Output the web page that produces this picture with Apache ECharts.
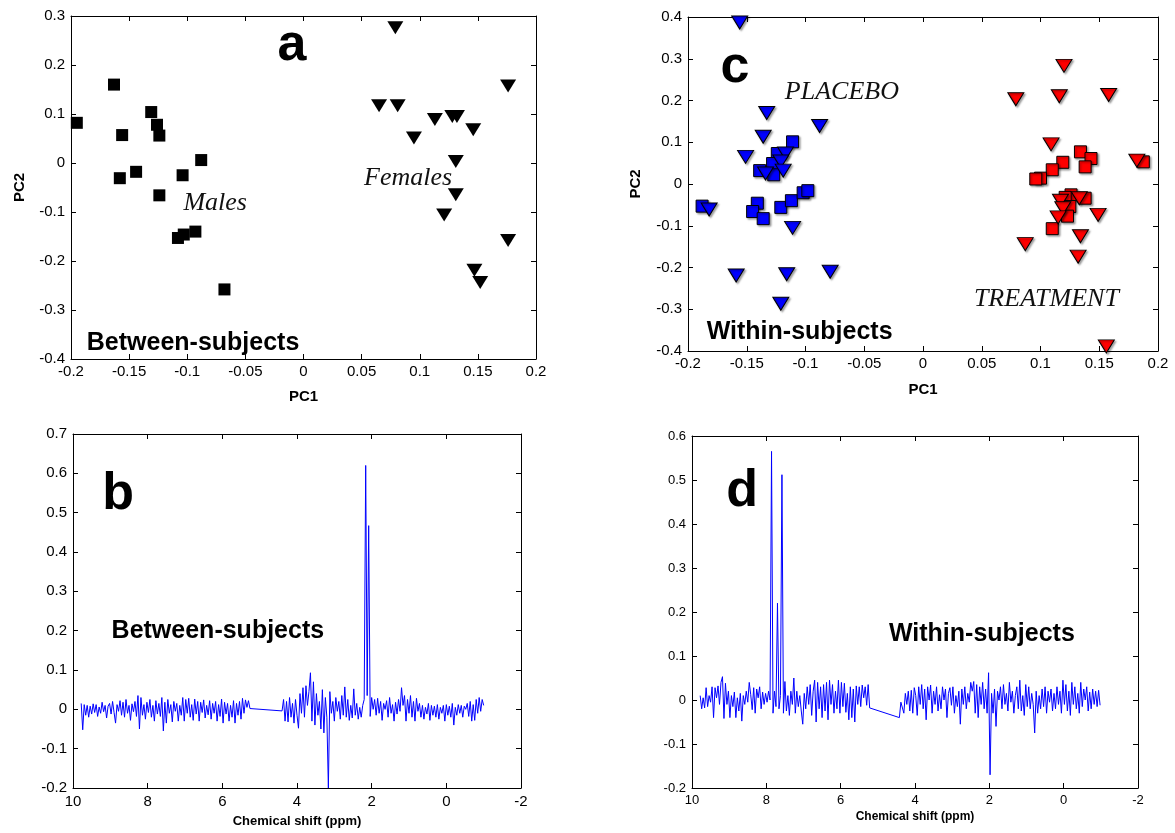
<!DOCTYPE html>
<html>
<head>
<meta charset="utf-8">
<script src="https://cdn.jsdelivr.net/npm/echarts@6/dist/echarts.min.js"></script>
<style>
  html, body { margin: 0; padding: 0; background: #fff; }
  #main { width: 1175px; height: 833px; }
</style>
</head>
<body>
<div id="main"></div>
<script>
// ---- PCA scores: between-subjects (panel a) ----
const males = [[-0.163,0.160],[-0.195,0.082],[-0.131,0.104],[-0.126,0.078],[-0.124,0.056],[-0.156,0.057],
  [-0.088,0.006],[-0.144,-0.018],[-0.158,-0.031],[-0.104,-0.025],[-0.124,-0.066],[-0.108,-0.153],
  [-0.103,-0.146],[-0.093,-0.140],[-0.068,-0.258]];
const females = [[0.079,0.276],[0.176,0.157],[0.065,0.117],[0.081,0.117],[0.113,0.089],[0.128,0.095],
  [0.132,0.095],[0.146,0.068],[0.095,0.051],[0.131,0.003],[0.131,-0.065],[0.121,-0.106],
  [0.176,-0.158],[0.147,-0.219],[0.152,-0.244]];

// ---- PCA scores: within-subjects (panel c) ----
const placeboSquares = [[-0.188,-0.053],[-0.111,0.101],[-0.124,0.073],[-0.128,0.049],[-0.139,0.032],
  [-0.127,0.022],[-0.141,-0.046],[-0.145,-0.066],[-0.136,-0.083],[-0.121,-0.056],[-0.112,-0.040],
  [-0.102,-0.021],[-0.098,-0.016]];
const placeboTriangles = [[-0.156,0.387],[-0.133,0.170],[-0.136,0.113],[-0.088,0.139],[-0.151,0.065],
  [-0.117,0.073],[-0.121,0.054],[-0.134,0.025],[-0.119,0.032],[-0.182,-0.061],[-0.111,-0.105],
  [-0.159,-0.219],[-0.116,-0.216],[-0.079,-0.210],[-0.121,-0.287]];
const treatmentSquares = [[0.134,0.077],[0.143,0.061],[0.138,0.041],[0.119,0.052],[0.110,0.034],
  [0.100,0.014],[0.096,0.012],[0.126,-0.026],[0.121,-0.032],[0.138,-0.034],[0.125,-0.054],
  [0.123,-0.077],[0.110,-0.107],[0.1875,0.053]];
const treatmentTriangles = [[0.120,0.283],[0.079,0.203],[0.116,0.210],[0.158,0.213],[0.109,0.095],
  [0.182,0.056],[0.117,-0.040],[0.133,-0.034],[0.119,-0.058],[0.115,-0.080],[0.149,-0.074],
  [0.134,-0.125],[0.087,-0.144],[0.132,-0.174],[0.156,-0.389]];

// ---- PC loadings spectra, sampled every 0.04 ppm on either side of the excluded water region ----
const ppmStep = 0.04;
const bHighStart = 9.78;
const bHigh = [0.015,-0.052,0.012,-0.015,0.010,-0.020,0.008,-0.012,0.014,-0.008,0.012,-0.018,0.006,-0.010,
  0.018,-0.006,0.010,-0.022,0.008,0.015,-0.012,0.020,-0.008,-0.035,0.012,-0.005,0.022,-0.015,0.018,-0.020,
  0.025,-0.010,0.010,-0.028,0.014,-0.006,0.020,-0.018,0.035,-0.050,0.030,-0.015,0.012,-0.025,0.018,-0.008,
  0.025,-0.020,0.010,-0.030,0.022,-0.012,0.015,-0.018,0.030,-0.055,0.018,-0.035,0.025,-0.010,0.012,-0.032,
  0.020,-0.005,0.015,-0.030,0.010,-0.015,0.030,-0.030,0.025,-0.010,0.028,-0.020,0.012,-0.028,0.026,-0.012,
  0.020,-0.030,0.018,-0.008,0.024,-0.022,0.010,-0.014,0.022,-0.025,0.015,-0.010,0.020,-0.030,0.012,-0.018,
  0.026,-0.035,0.018,-0.012,0.015,-0.030,0.010,-0.020,0.022,-0.035,0.015,-0.015,0.020,-0.025,0.028,-0.010,
  0.024,0.005,0.022,0.002];
const bLowStart = 4.40;
const bLow = [-0.004,0.025,-0.030,0.020,-0.032,0.030,-0.020,0.015,-0.035,0.025,-0.015,-0.048,0.040,-0.010,
  0.055,-0.020,0.060,0.010,0.045,0.093,-0.030,0.070,-0.040,0.040,-0.015,0.020,-0.050,0.050,-0.060,0.030,
  -0.020,-0.200,0.045,-0.010,0.020,-0.030,0.030,-0.005,0.020,-0.025,0.035,-0.015,0.057,-0.020,0.025,-0.028,
  0.010,-0.022,0.052,-0.015,0.015,-0.025,0.005,-0.020,0.010,0.025,0.620,0.035,0.467,-0.018,0.030,0.000,
  0.025,-0.015,0.028,-0.010,0.020,-0.028,0.015,0.000,0.022,-0.020,0.030,-0.010,0.012,-0.030,0.018,-0.012,
  0.025,-0.005,0.055,0.010,0.035,-0.030,0.025,-0.010,0.035,-0.020,0.020,-0.030,0.028,-0.005,0.015,-0.020,
  0.010,-0.025,0.005,-0.012,0.015,-0.028,0.010,-0.015,0.008,-0.020,0.012,-0.025,0.005,-0.010,0.010,-0.030,
  0.012,-0.015,0.008,-0.020,0.015,-0.040,0.005,-0.015,0.012,-0.010,0.010,-0.020,0.008,0.000,0.015,-0.018,
  0.020,-0.030,0.012,-0.028,0.025,-0.010,0.030,-0.005,0.025,0.010];
const dHighStart = 9.78;
const dHigh = [0.010,-0.020,0.005,-0.018,0.028,-0.015,0.010,-0.005,0.030,-0.040,0.028,0.005,0.032,-0.010,
  0.040,0.053,-0.042,0.038,-0.010,0.020,-0.040,0.010,-0.015,0.018,-0.040,0.005,-0.025,0.015,-0.048,0.010,
  -0.010,0.020,-0.005,0.040,0.012,-0.022,0.028,-0.030,0.025,0.005,0.030,-0.020,0.018,-0.010,0.015,-0.005,
  0.020,0.000,0.565,-0.030,0.020,-0.015,0.220,-0.020,0.010,0.512,-0.030,0.042,-0.025,0.010,-0.035,0.020,
  -0.010,0.050,-0.030,0.020,-0.015,0.010,-0.025,-0.055,0.015,-0.020,0.030,-0.010,0.035,-0.035,0.020,0.045,
  -0.050,0.040,-0.020,0.030,-0.040,0.035,-0.025,0.040,-0.045,0.045,-0.010,0.035,-0.030,0.020,-0.020,0.045,
  -0.030,0.040,-0.015,0.038,-0.028,0.015,-0.045,0.030,-0.040,0.025,-0.050,0.032,-0.010,0.030,-0.015,0.034,
  0.005,0.030,-0.012,0.035,-0.018];
const dLowStart = 4.42;
const dLow = [-0.040,-0.005,-0.002,-0.030,0.015,-0.010,0.020,-0.025,0.022,-0.030,0.028,0.010,-0.035,0.030,
  -0.010,0.035,-0.020,0.025,-0.045,0.030,0.000,0.034,-0.030,0.020,-0.010,0.030,-0.025,0.012,-0.020,0.030,
  0.000,0.025,-0.040,0.015,0.028,-0.012,0.030,-0.030,0.010,-0.015,0.020,-0.055,0.025,-0.010,0.030,-0.020,
  0.015,-0.005,0.040,0.020,0.042,-0.030,0.035,-0.040,0.030,-0.010,0.040,-0.020,0.025,-0.030,0.062,-0.170,
  0.015,-0.030,0.025,-0.060,0.020,0.000,0.030,-0.020,0.035,-0.010,0.015,-0.025,0.040,-0.005,0.020,-0.030,
  0.010,0.030,-0.020,0.045,-0.025,0.010,-0.035,0.035,-0.015,0.030,-0.020,0.015,-0.010,-0.075,0.020,-0.030,
  0.010,-0.020,0.025,-0.015,0.030,-0.030,0.020,-0.005,0.025,-0.025,0.015,-0.020,0.030,-0.010,0.020,-0.030,
  0.045,-0.010,0.035,-0.025,0.020,-0.035,0.040,-0.010,0.030,-0.020,0.015,-0.030,0.040,-0.015,0.025,0.000,
  0.030,-0.025,0.018,-0.020,0.025,-0.010,0.020,-0.015,0.022,-0.012];

// ---- axis ranges and ticks ----
const pcXRange = [-0.2, 0.2, 0.05];
const pcAYRange = [-0.4, 0.3, 0.1];
const pcCYRange = [-0.4, 0.4, 0.1];
const ppmRange = [-2, 10, 2];
const loadBYRange = [-0.2, 0.7, 0.1];
const loadDYRange = [-0.2, 0.6, 0.1];

// ---- helpers ----
const SANS = 'Liberation Sans, Arial, Helvetica, sans-serif';
const SERIF = 'Liberation Serif, Times New Roman, serif';
const BLACK = '#000';

function spectrum(start, vals) {
  return vals.map((v, i) => [+(start - i * ppmStep).toFixed(2), v]);
}

const xAxes = [], yAxes = [];
function addAxes(gi, xr, yr, cfg) {
  const line = { show: true, onZero: false, lineStyle: { color: BLACK, width: 1 } };
  const tick = { show: true, inside: true, length: 5, lineStyle: { color: BLACK, width: 1 } };
  const common = { gridIndex: gi, type: 'value', splitLine: { show: false }, axisLine: line, axisTick: tick };
  xAxes.push(Object.assign({}, common, {
    position: 'bottom', min: xr[0], max: xr[1], interval: xr[2], inverse: !!cfg.inverse,
    axisLabel: { color: BLACK, fontFamily: SANS, fontSize: cfg.tickFont, margin: cfg.xMargin },
    name: cfg.xName || '', nameLocation: 'middle', nameGap: cfg.xNameGap || 0,
    nameTextStyle: { color: BLACK, fontFamily: SANS, fontWeight: 'bold', fontSize: cfg.xNameFont }
  }));
  xAxes.push(Object.assign({}, common, {
    position: 'top', min: xr[0], max: xr[1], interval: xr[2], inverse: !!cfg.inverse,
    axisLabel: { show: false }
  }));
  yAxes.push(Object.assign({}, common, {
    position: 'left', min: yr[0], max: yr[1], interval: yr[2],
    axisLabel: { color: BLACK, fontFamily: SANS, fontSize: cfg.tickFont, margin: cfg.yMargin },
    name: cfg.yName || '', nameLocation: 'middle', nameGap: cfg.yNameGap || 0,
    nameTextStyle: { color: BLACK, fontFamily: SANS, fontWeight: 'bold', fontSize: cfg.xNameFont }
  }));
  yAxes.push(Object.assign({}, common, {
    position: 'right', min: yr[0], max: yr[1], interval: yr[2],
    axisLabel: { show: false }
  }));
}

function markers(gi, data, shape, color, edged) {
  const tri = shape === 'tri';
  const style = edged
    ? { color: color, opacity: 1, borderColor: BLACK, borderWidth: 1, shadowColor: 'rgba(0,0,0,0.35)', shadowBlur: 2, shadowOffsetX: 1.5, shadowOffsetY: 1.5 }
    : { color: color, opacity: 1 };
  return {
    type: 'scatter', xAxisIndex: 2 * gi, yAxisIndex: 2 * gi, clip: false,
    symbol: tri ? 'triangle' : 'rect', symbolRotate: tri ? 180 : 0,
    symbolSize: tri ? [16, 13] : 12,
    itemStyle: style,
    data: data
  };
}

function line(gi, data) {
  return {
    type: 'line', xAxisIndex: 2 * gi, yAxisIndex: 2 * gi, data: data,
    showSymbol: false, symbol: 'none', sampling: null, clip: false,
    lineStyle: { color: '#0000ff', width: 1, opacity: 1 }
  };
}

const letterStyle = { fontFamily: SANS, fontWeight: 'bold', fontSize: 52, color: BLACK };
const captionStyle = { fontFamily: SANS, fontWeight: 'bold', fontSize: 25, color: BLACK };
const groupStyle = { fontFamily: SERIF, fontStyle: 'italic', fontSize: 26, color: '#111' };

function texts(gi, items) {
  return {
    type: 'scatter', xAxisIndex: 2 * gi, yAxisIndex: 2 * gi, silent: true, z: 20, clip: false,
    symbolSize: 1, itemStyle: { color: 'rgba(255,255,255,0)', opacity: 1 },
    data: items.map(t => ({
      value: [t[0], t[1]],
      label: Object.assign({ show: true, position: 'inside', opacity: 1, formatter: t[2] }, t[3])
    }))
  };
}

// ---- grids: a (top-left), c (top-right), b (bottom-left), d (bottom-right) ----
const grids = [
  { left: 71, top: 16, width: 465, height: 343 },
  { left: 688, top: 17, width: 470, height: 334 },
  { left: 73, top: 434, width: 448, height: 354 },
  { left: 692, top: 436, width: 446, height: 352 }
];

addAxes(0, pcXRange, pcAYRange, { tickFont: 15, xMargin: 5, yMargin: 6, xName: 'PC1', xNameGap: 30, yName: 'PC2', yNameGap: 44, xNameFont: 15 });
addAxes(1, pcXRange, pcCYRange, { tickFont: 15, xMargin: 5, yMargin: 6, xName: 'PC1', xNameGap: 31, yName: 'PC2', yNameGap: 45, xNameFont: 15 });
addAxes(2, ppmRange, loadBYRange, { inverse: true, tickFont: 15, xMargin: 6, yMargin: 6, xName: 'Chemical shift (ppm)', xNameGap: 27, xNameFont: 13 });
addAxes(3, ppmRange, loadDYRange, { inverse: true, tickFont: 13, xMargin: 6, yMargin: 6, xName: 'Chemical shift (ppm)', xNameGap: 23, xNameFont: 12 });

const series = [
  markers(0, males, 'sq', BLACK, false),
  markers(0, females, 'tri', BLACK, false),
  texts(0, [
    [-0.01, 0.24, 'a', letterStyle],
    [-0.076, -0.082, 'Males', groupStyle],
    [0.090, -0.031, 'Females', groupStyle],
    [-0.095, -0.367, 'Between-subjects', captionStyle]
  ]),
  markers(1, placeboSquares, 'sq', '#0000ff', true),
  markers(1, treatmentSquares, 'sq', '#ff0000', true),
  markers(1, placeboTriangles, 'tri', '#0000ff', true),
  markers(1, treatmentTriangles, 'tri', '#ff0000', true),
  texts(1, [
    [-0.16, 0.279, 'c', letterStyle],
    [-0.069, 0.221, 'PLACEBO', groupStyle],
    [0.105, -0.277, 'TREATMENT', groupStyle],
    [-0.105, -0.354, 'Within-subjects', captionStyle]
  ]),
  line(2, spectrum(bHighStart, bHigh).concat(spectrum(bLowStart, bLow))),
  texts(2, [
    [8.79, 0.547, 'b', letterStyle],
    [6.12, 0.198, 'Between-subjects', captionStyle]
  ]),
  line(3, spectrum(dHighStart, dHigh).concat(spectrum(dLowStart, dLow))),
  texts(3, [
    [8.65, 0.474, 'd', letterStyle],
    [2.2, 0.149, 'Within-subjects', captionStyle]
  ])
];

const chart = echarts.init(document.getElementById('main'), null, { renderer: 'canvas' });
chart.setOption({
  animation: false,
  backgroundColor: '#fff',
  grid: grids,
  xAxis: xAxes,
  yAxis: yAxes,
  series: series
});
</script>
</body>
</html>
